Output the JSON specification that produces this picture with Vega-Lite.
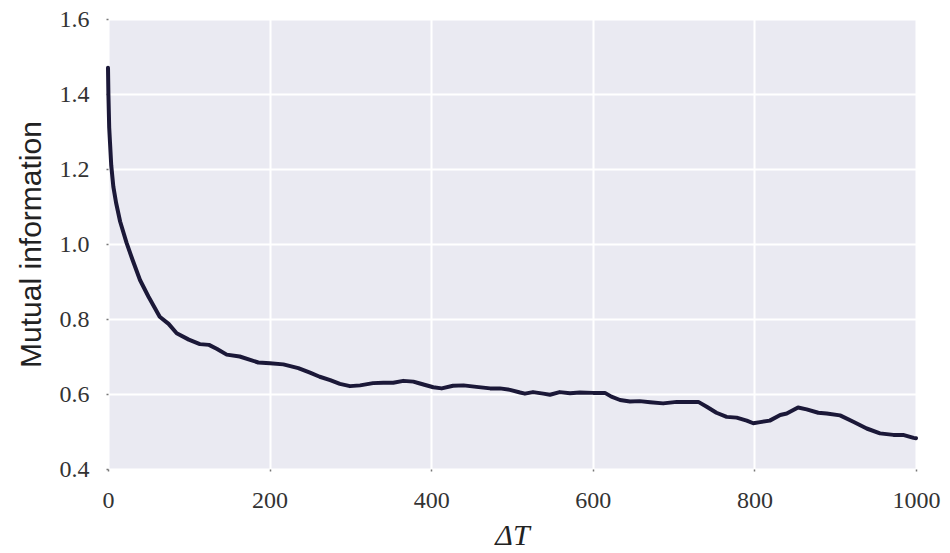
{
  "$schema": "https://vega.github.io/schema/vega-lite/v6.json",
  "autosize": "none",
  "padding": {"left": 108, "top": 19, "right": 34, "bottom": 84},
  "width": 808,
  "height": 450,
  "background": "white",
  "config": {
    "view": {"fill": "#EAEAF2", "stroke": null},
    "axis": {
      "domain": false,
      "grid": true,
      "gridColor": "white",
      "gridWidth": 2,
      "tickColor": "#777",
      "tickSize": 2,
      "tickWidth": 1.5,
      "labelFont": "Liberation Serif",
      "labelFontSize": 24,
      "labelColor": "#333",
      "labelFlush": false,
      "titleColor": "#222"
    }
  },
  "data": {
    "values": [
      {"t": 0, "mi": 1.47},
      {"t": 0.5, "mi": 1.40},
      {"t": 1.5, "mi": 1.31},
      {"t": 2.5, "mi": 1.27},
      {"t": 4, "mi": 1.21},
      {"t": 6.6, "mi": 1.153},
      {"t": 10, "mi": 1.11},
      {"t": 15, "mi": 1.06},
      {"t": 23, "mi": 1.003},
      {"t": 30, "mi": 0.96},
      {"t": 39.6, "mi": 0.904},
      {"t": 50, "mi": 0.86},
      {"t": 64, "mi": 0.806},
      {"t": 75, "mi": 0.787},
      {"t": 85, "mi": 0.762},
      {"t": 100, "mi": 0.745},
      {"t": 113.7, "mi": 0.733},
      {"t": 125, "mi": 0.731},
      {"t": 135, "mi": 0.72},
      {"t": 146.9, "mi": 0.705},
      {"t": 163, "mi": 0.700},
      {"t": 176, "mi": 0.691},
      {"t": 186, "mi": 0.684},
      {"t": 200.5, "mi": 0.682},
      {"t": 217, "mi": 0.679},
      {"t": 235.5, "mi": 0.669},
      {"t": 250, "mi": 0.657},
      {"t": 262, "mi": 0.646},
      {"t": 275, "mi": 0.637},
      {"t": 287, "mi": 0.627},
      {"t": 299.5, "mi": 0.621},
      {"t": 312, "mi": 0.623},
      {"t": 328, "mi": 0.629},
      {"t": 340.7, "mi": 0.630},
      {"t": 353, "mi": 0.630},
      {"t": 365.5, "mi": 0.635},
      {"t": 378, "mi": 0.633},
      {"t": 386, "mi": 0.628},
      {"t": 402.6, "mi": 0.618},
      {"t": 413, "mi": 0.615},
      {"t": 427, "mi": 0.622},
      {"t": 440, "mi": 0.623},
      {"t": 456, "mi": 0.619},
      {"t": 473, "mi": 0.615},
      {"t": 485, "mi": 0.615},
      {"t": 497.5, "mi": 0.611},
      {"t": 510, "mi": 0.604},
      {"t": 516, "mi": 0.601},
      {"t": 526, "mi": 0.605},
      {"t": 538.7, "mi": 0.601},
      {"t": 547, "mi": 0.598},
      {"t": 559, "mi": 0.605},
      {"t": 571.8, "mi": 0.602},
      {"t": 584, "mi": 0.604},
      {"t": 600.6, "mi": 0.603},
      {"t": 615, "mi": 0.603},
      {"t": 623, "mi": 0.593},
      {"t": 633.7, "mi": 0.584},
      {"t": 646, "mi": 0.580},
      {"t": 658, "mi": 0.581},
      {"t": 671, "mi": 0.578},
      {"t": 687, "mi": 0.575},
      {"t": 704, "mi": 0.579},
      {"t": 716, "mi": 0.579},
      {"t": 730.6, "mi": 0.579},
      {"t": 741, "mi": 0.566},
      {"t": 753, "mi": 0.550},
      {"t": 765.7, "mi": 0.539},
      {"t": 778, "mi": 0.537},
      {"t": 790.5, "mi": 0.529},
      {"t": 798.6, "mi": 0.522},
      {"t": 807, "mi": 0.525},
      {"t": 819, "mi": 0.529},
      {"t": 832, "mi": 0.544},
      {"t": 840, "mi": 0.548},
      {"t": 854, "mi": 0.564},
      {"t": 864.7, "mi": 0.559},
      {"t": 879, "mi": 0.550},
      {"t": 889.5, "mi": 0.548},
      {"t": 906, "mi": 0.543},
      {"t": 922.4, "mi": 0.526},
      {"t": 939, "mi": 0.508},
      {"t": 955.4, "mi": 0.495},
      {"t": 972, "mi": 0.491},
      {"t": 984, "mi": 0.491},
      {"t": 997, "mi": 0.483},
      {"t": 1000, "mi": 0.482}
    ]
  },
  "mark": {"type": "line", "color": "#1b1838", "strokeWidth": 4, "strokeJoin": "round", "strokeCap": "round"},
  "encoding": {
    "x": {
      "field": "t",
      "type": "quantitative",
      "scale": {"domain": [0, 1000], "nice": false, "zero": false},
      "axis": {
        "values": [0, 200, 400, 600, 800, 1000],
        "format": "d",
        "labelPadding": 17,
        "title": "ΔT",
        "titleFont": "Liberation Serif",
        "titleFontStyle": "italic",
        "titleFontWeight": "normal",
        "titleFontSize": 30,
        "titlePadding": 8
      }
    },
    "y": {
      "field": "mi",
      "type": "quantitative",
      "scale": {"domain": [0.4, 1.6], "nice": false, "zero": false},
      "axis": {
        "values": [0.4, 0.6, 0.8, 1.0, 1.2, 1.4, 1.6],
        "format": ".1f",
        "labelPadding": 17,
        "title": "Mutual information",
        "titleFont": "Liberation Sans",
        "titleFontWeight": "normal",
        "titleFontSize": 30,
        "titlePadding": 13
      }
    }
  }
}
